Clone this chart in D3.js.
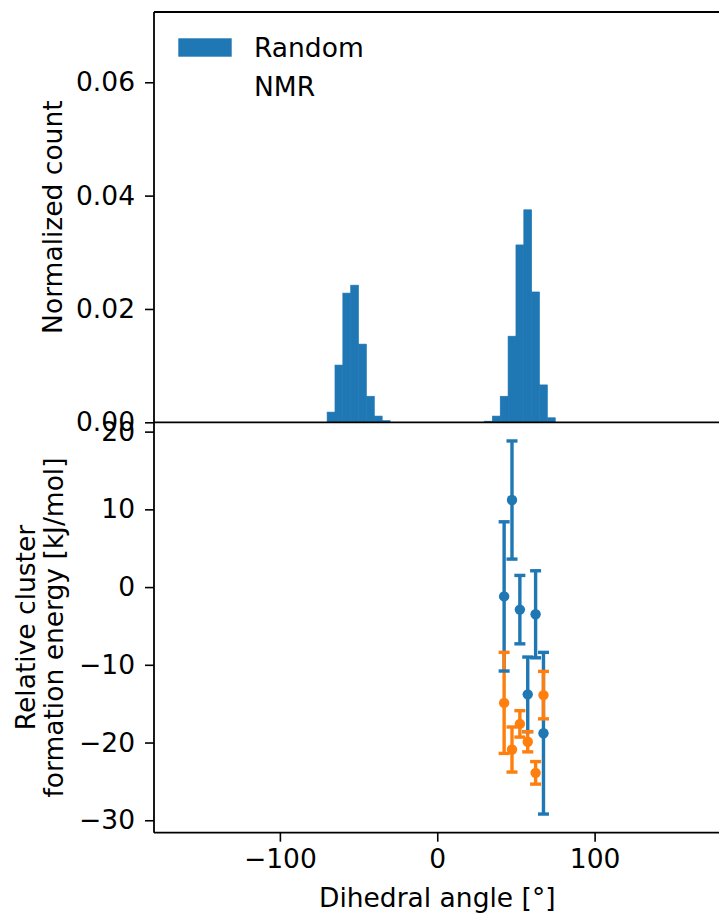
<!DOCTYPE html>
<html>
<head>
<meta charset="utf-8">
<script src="https://cdn.jsdelivr.net/npm/d3@7"></script>
<style>
  body { margin: 0; background: #fff; }
  svg { display: block; }
  text { font-family: "DejaVu Sans", sans-serif; fill: #000; }
</style>
</head>
<body>
<svg id="chart" width="719" height="915"></svg>
<script>
// ---- data ----
const binWidth = 5;
const histBinStarts = [-70, -65, -60, -55, -50, -45, -40, -35, 30, 35, 40, 45, 50, 55, 60, 65, 70];
const histCounts    = [0.0018, 0.0101, 0.0228, 0.0242, 0.0138, 0.0046, 0.0011, 0.0003,
                       0.0002, 0.0011, 0.0046, 0.0152, 0.0313, 0.0375, 0.0230, 0.0066, 0.0008];

const pointAngles = [42.5, 47.5, 52.5, 57.5, 62.5, 67.5];
const randomEnergy = [-1.2, 11.2, -2.9, -13.8, -3.5, -18.8];
const randomErr    = [9.6, 7.6, 4.4, 4.8, 5.6, 10.4];
const nmrEnergy    = [-14.9, -20.9, -17.6, -19.9, -23.9, -13.9];
const nmrErr       = [6.5, 2.9, 1.7, 1.3, 1.45, 3.05];

const xTicks = [-100, 0, 100];
const topYTicks = [0, 0.02, 0.04, 0.06];
const botYTicks = [-30, -20, -10, 0, 10, 20];

const legendLabels = ["Random", "NMR"];
const blue = "#1f77b4", orange = "#ff7f0e";

// ---- layout ----
const svg = d3.select("#chart");
const L = 154, R = 720.5, T = 12, MID = 422.3, B = 832.7;
const FS = 26.5;

const x = d3.scaleLinear().domain([-180, 180]).range([L, R]);
const yTop = d3.scaleLinear().domain([0, 0.0724]).range([MID, T]);
const yBot = d3.scaleLinear().domain([-31.6, 21.2]).range([B, MID]);

const fmt2 = d3.format(".2f");
const fmtInt = d => d3.format("d")(d).replace("-", "\u2212");

// ---- histogram ----
svg.append("g").selectAll("rect").data(histBinStarts).join("rect")
  .attr("x", d => x(d))
  .attr("width", d => x(d + binWidth) - x(d))
  .attr("y", (d, i) => yTop(histCounts[i]))
  .attr("height", (d, i) => yTop(0) - yTop(histCounts[i]))
  .attr("fill", blue).attr("stroke", blue).attr("stroke-width", 0.6);

// ---- error bars ----
function errLines(g, energy, err, color) {
  g.selectAll(null).data(pointAngles).join("line")
    .attr("x1", d => x(d)).attr("x2", d => x(d))
    .attr("y1", (d, i) => yBot(energy[i] + err[i]))
    .attr("y2", (d, i) => yBot(energy[i] - err[i]))
    .attr("stroke", color).attr("stroke-width", 3.4);
}
function errCaps(g, energy, err, color) {
  [1, -1].forEach(s => {
    g.selectAll(null).data(pointAngles).join("line")
      .attr("x1", d => x(d) - 5.5).attr("x2", d => x(d) + 5.5)
      .attr("y1", (d, i) => yBot(energy[i] + s * err[i]))
      .attr("y2", (d, i) => yBot(energy[i] + s * err[i]))
      .attr("stroke", color).attr("stroke-width", 3.4);
  });
}
function markers(g, energy, color) {
  g.selectAll(null).data(pointAngles).join("circle")
    .attr("cx", d => x(d))
    .attr("cy", (d, i) => yBot(energy[i]))
    .attr("r", 5.2).attr("fill", color);
}
const eg = svg.append("g");
errLines(eg, randomEnergy, randomErr, blue);
errLines(eg, nmrEnergy, nmrErr, orange);
errCaps(eg, randomEnergy, randomErr, blue);
errCaps(eg, nmrEnergy, nmrErr, orange);
markers(eg, randomEnergy, blue);
markers(eg, nmrEnergy, orange);

// ---- spines ----
const sp = svg.append("g").attr("stroke", "#000").attr("stroke-width", 1.8).attr("fill", "none");
sp.append("line").attr("x1", L).attr("x2", R + 2).attr("y1", T).attr("y2", T);
sp.append("line").attr("x1", L).attr("x2", L).attr("y1", T).attr("y2", B);
sp.append("line").attr("x1", L).attr("x2", R + 2).attr("y1", MID).attr("y2", MID);
sp.append("line").attr("x1", L).attr("x2", R + 2).attr("y1", B).attr("y2", B);
sp.append("line").attr("x1", R).attr("x2", R).attr("y1", T).attr("y2", B);

// ---- axes ----
function styleAxis(g) {
  g.select(".domain").remove();
  g.selectAll(".tick line").attr("stroke", "#000").attr("stroke-width", 1.6);
  g.selectAll(".tick text").style("font-size", FS + "px").style("font-family", "DejaVu Sans");
}
svg.append("g").attr("transform", `translate(${L},0)`)
  .call(d3.axisLeft(yTop).tickValues(topYTicks).tickFormat(fmt2).tickSize(9).tickPadding(10))
  .call(styleAxis);
svg.append("g").attr("transform", `translate(${L},0)`)
  .call(d3.axisLeft(yBot).tickValues(botYTicks).tickFormat(fmtInt).tickSize(9).tickPadding(10))
  .call(styleAxis);
svg.append("g").attr("transform", `translate(0,${B})`)
  .call(d3.axisBottom(x).tickValues(xTicks).tickFormat(fmtInt).tickSize(9).tickPadding(7))
  .call(styleAxis);

// ---- labels ----
svg.append("text").attr("transform", `translate(62,${(T + MID) / 2}) rotate(-90)`)
  .attr("text-anchor", "middle").style("font-size", FS + "px").text("Normalized count");
svg.append("text").attr("transform", `translate(35,${(MID + B) / 2}) rotate(-90)`)
  .attr("text-anchor", "middle").style("font-size", FS + "px").text("Relative cluster");
svg.append("text").attr("transform", `translate(63,${(MID + B) / 2}) rotate(-90)`)
  .attr("text-anchor", "middle").style("font-size", FS + "px").text("formation energy [kJ/mol]");
svg.append("text").attr("x", x(0)).attr("y", 907)
  .attr("text-anchor", "middle").style("font-size", FS + "px").text("Dihedral angle [\u00b0]");

// ---- legend ----
const lg = svg.append("g");
lg.append("rect").attr("x", 178.3).attr("y", 38.3).attr("width", 53.4).attr("height", 18.4).attr("fill", blue);
lg.selectAll("text").data(legendLabels).join("text")
  .attr("x", 254).attr("y", (d, i) => 47.5 + i * 39)
  .attr("dy", "0.36em").style("font-size", FS + "px").text(d => d);
</script>
</body>
</html>
